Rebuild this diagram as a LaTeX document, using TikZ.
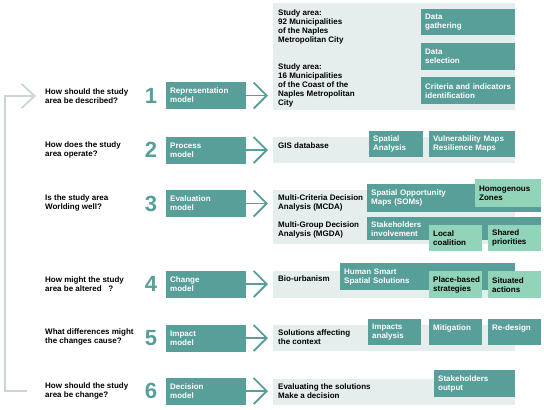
\documentclass[tikz,border=0pt]{standalone}
\usepackage{fontspec}
\setmainfont{Liberation Sans}
\usetikzlibrary{arrows.meta}

\definecolor{tealdark}{HTML}{589E99}
\definecolor{teallight}{HTML}{91D4BA}
\definecolor{panelgrey}{HTML}{E5EDED}
\definecolor{loopgrey}{HTML}{C8D6D6}

\tikzset{
    txt/.style={font=\bfseries\fontsize{8}{9}\selectfont, align=left, inner sep=0pt},
    panel/.style={fill=panelgrey, anchor=north west, inner sep=0pt},
    darkbox/.style={txt, fill=tealdark, text=white, anchor=north west, inner xsep=4pt, inner ysep=2pt},
    lightbox/.style={txt, fill=teallight, text=black, anchor=north west, inner xsep=4pt, inner ysep=2pt},
    model/.style={darkbox, anchor=west, text width=72pt, minimum height=27pt},
    num/.style={font=\bfseries\fontsize{22}{22}\selectfont, text=tealdark, inner sep=0pt},
    modelarrow/.style={line width=1.8pt, tealdark, shorten >=5pt, -{Straight Barb[length=13pt, width=26pt, line width=1.8pt]}},
    looparrow/.style={line width=1.8pt, loopgrey, -{Straight Barb[length=13pt, width=24pt, line width=1.8pt]}}
}

\begin{document}
\begin{tikzpicture}[x=1pt, y=-1pt]
    \useasboundingbox (0,0) rectangle (544,410);

    % grey panels
    \node[panel, minimum width=242, minimum height=107] (p1) at (273,3) {};
    \node[panel, minimum width=242, minimum height=26] (p2) at (273,137) {};
    \node[panel, minimum width=242, minimum height=54] (p3) at (273,190) {};
    \node[panel, minimum width=242, minimum height=27] (p4) at (273,271) {};
    \node[panel, minimum width=242, minimum height=26] (p5) at (273,325) {};
    \node[panel, minimum width=242, minimum height=26] (p6) at (273,379) {};

    % questions
    \node[txt, anchor=west] (q1) at (45,96) {How should the study\\area be described?};
    \node[txt, anchor=west] (q2) at (45,150) {How does the study\\area operate?};
    \node[txt, anchor=west] (q3) at (45,203) {Is the study area\\Worlding well?};
    \node[txt, anchor=west] (q4) at (45,284) {How might the study\\area be altered~~~?};
    \node[txt, anchor=west] (q5) at (45,337) {What differences might\\the changes cause?};
    \node[txt, anchor=west] (q6) at (45,391) {How should the study\\area be change?};

    % numbers
    \node[num] (n1) at (151,96) {1};
    \node[num] (n2) at (151,150) {2};
    \node[num] (n3) at (151,204) {3};
    \node[num] (n4) at (151,284) {4};
    \node[num] (n5) at (151,338) {5};
    \node[num] (n6) at (151,391) {6};

    % models
    \node[model] (rep) at (166,95.5) {Representation\\model};
    \node[model] (proc) at (166,150) {Process\\model};
    \node[model] (eval) at (166,203.5) {Evaluation\\model};
    \node[model] (chg) at (166,284) {Change\\model};
    \node[model] (imp) at (166,338) {Impact\\model};
    \node[model] (dec) at (166,391) {Decision\\model};

    \draw[modelarrow] (rep.east) -- (rep.east -| p1.west);
    \draw[modelarrow] (proc.east) -- (proc.east -| p2.west);
    \draw[modelarrow] (eval.east) -- (eval.east -| p3.west);
    \draw[modelarrow] (chg.east) -- (chg.east -| p4.west);
    \draw[modelarrow] (imp.east) -- (imp.east -| p5.west);
    \draw[modelarrow] (dec.east) -- (dec.east -| p6.west);

    % feedback loop
    \coordinate (loopstart) at (27,391);
    \coordinate (loopend) at (36,96);
    \coordinate (loopx) at (5,0);
    \draw[looparrow] (loopstart) -| (loopx |- loopend) -- (loopend);

    % row 1
    \node[txt, anchor=north west] (area92) at (278,9.5) {Study area:\\92 Municipalities\\of the Naples\\Metropolitan City};
    \node[txt, anchor=north west] (area16) at (278,63.5) {Study area:\\16 Municipalities\\of the Coast of the\\Naples Metropolitan\\City};
    \node[darkbox, text width=86pt, minimum height=26] (gather) at (421,9) {Data\\gathering};
    \node[darkbox, text width=86pt, minimum height=27] (select) at (421,43) {Data\\selection};
    \node[darkbox, text width=86pt, minimum height=27] (criteria) at (421,77) {Criteria and indicators\\identification};

    % row 2
    \node[txt, anchor=west] (gis) at (278,146) {GIS database};
    \node[darkbox, text width=46pt, minimum height=26] (spatial) at (369,131) {Spatial\\Analysis};
    \node[darkbox, text width=78pt, minimum height=26] (vuln) at (429,131) {Vulnerability Maps\\Resilience Maps};

    % row 3
    \node[txt, anchor=west] (mcda) at (278,203) {Multi-Criteria Decision\\Analysis (MCDA)};
    \node[txt, anchor=west] (mgda) at (278,230) {Multi-Group Decision\\Analysis (MGDA)};
    \node[darkbox, text width=166pt, minimum height=28] (soms) at (367,184) {Spatial Opportunity\\Maps (SOMs)};
    \node[lightbox, text width=58pt, minimum height=28] (zones) at (475,179) {Homogenous\\Zones};
    \node[darkbox, text width=166pt, minimum height=23] (involve) at (367,217) {Stakeholders\\involvement};
    \node[lightbox, text width=45pt, minimum height=26] (coalition) at (429,225) {Local\\coalition};
    \node[lightbox, text width=45pt, minimum height=26] (shared) at (488,225) {Shared\\priorities};

    % row 4
    \node[txt, anchor=west] (bio) at (278,279) {Bio-urbanism};
    \node[darkbox, text width=167pt, minimum height=27] (smart) at (340,263) {Human Smart\\Spatial Solutions};
    \node[lightbox, text width=45pt, minimum height=27] (place) at (429,271) {\mbox{Place-based}\\strategies};
    \node[lightbox, text width=45pt, minimum height=27] (situated) at (488,271) {Situated\\actions};

    % row 5
    \node[txt, anchor=west] (context) at (278,337) {Solutions affecting\\the context};
    \node[darkbox, text width=45pt, minimum height=26] (impacts) at (368,319) {Impacts\\analysis};
    \node[darkbox, text width=45pt, minimum height=26] (mitig) at (429,319) {Mitigation\\\phantom{X}};
    \node[darkbox, text width=45pt, minimum height=26] (redesign) at (488,319) {Re-design\\\phantom{X}};

    % row 6
    \node[txt, anchor=west] (evalsol) at (278,391.5) {Evaluating the solutions\\Make a decision};
    \node[darkbox, text width=73pt, minimum height=27] (output) at (434,370) {Stakeholders\\output};
\end{tikzpicture}
\end{document}
